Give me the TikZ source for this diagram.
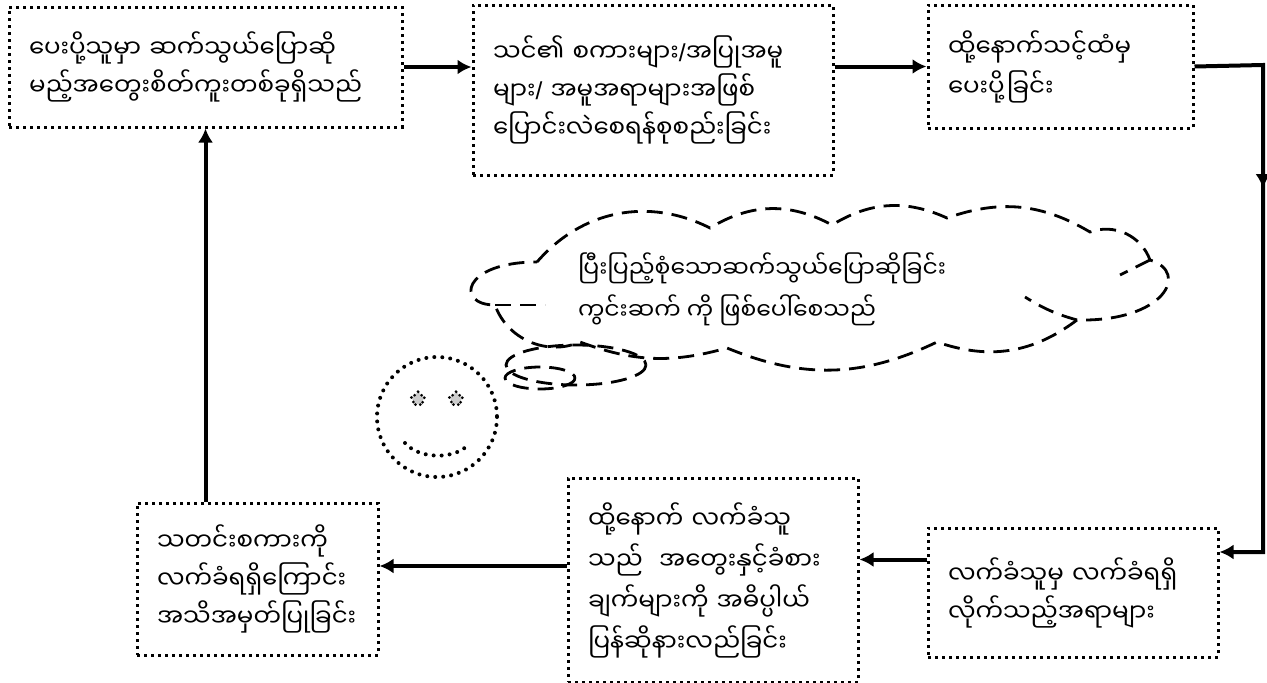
\documentclass[tikz,border=0pt]{standalone}
\usepackage{fontspec}
\newfontfamily\mmfont[Script=Myanmar]{Noto Sans Myanmar UI}
\newfontfamily\latinfont{Liberation Sans}
\newcommand\slashmark{{\latinfont /}}
\usetikzlibrary{arrows.meta}
\usetikzlibrary{decorations.markings}
\usetikzlibrary{shapes.geometric}
\tikzset{->-/.style={decoration={
  markings,
  mark=at position #1 with {\arrow{>}}},postaction={decorate}}}
\tikzset{
  stepbox/.style={draw, line width=3pt, dash pattern=on 3pt off 4pt,
    inner xsep=20pt, inner ysep=0pt, align=left,
    font=\mmfont\fontsize{24.5}{38}\selectfont},
  flow/.style={line width=4pt, ->},
  thinkline/.style={draw, line width=2.8pt, dash pattern=on 16pt off 9pt},
  dotline/.style={line width=4pt, line cap=round, dash pattern=on 0pt off 8pt},
  eye/.style={star, star points=5, minimum size=15pt, inner sep=0pt, fill=gray!40,
    draw, dotline, line width=3pt, dash pattern=on 0pt off 5pt},
}

\begin{document}
\begin{tikzpicture}[x=1pt, y=-1pt, >={Latex[length=14pt,width=15pt]}]
      \useasboundingbox (0,0) rectangle (1267,683);

      \node [stepbox, text width=353pt, minimum height=120pt] (send) at (205.5,67)
        {ပေးပို့သူမှာ ဆက်သွယ်ပြောဆို\\မည့်အတွေးစိတ်ကူးတစ်ခုရှိသည်};
      \node [stepbox, text width=320pt, minimum height=170pt] (encode) at (653,90)
        {သင်၏ စကားများ\slashmark အပြုအမူ\\များ\slashmark\ အမူအရာများအဖြစ်\\ပြောင်းလဲစေရန်စုစည်းခြင်း};
      \node [stepbox, text width=225pt, minimum height=123pt, font=\mmfont\fontsize{24.5}{40}\selectfont] (transmit) at (1060.5,66.5)
        {ထို့နောက်သင့်ထံမှ\\ပေးပို့ခြင်း};
      \node [stepbox, text width=250pt, minimum height=129pt] (receive) at (1073,592.5)
        {လက်ခံသူမှ လက်ခံရရှိ\\လိုက်သည့်အရာများ};
      \node [stepbox, text width=250pt, minimum height=204pt, font=\mmfont\fontsize{24.5}{41}\selectfont] (decode) at (713,580)
        {ထို့နောက် လက်ခံသူ\\သည်~~အတွေးနှင့်ခံစား\\ချက်များကို အဓိပ္ပါယ်\\ပြန်ဆိုနားလည်ခြင်း};
      \node [stepbox, text width=201pt, minimum height=152pt] (ack) at (257.5,579)
        {သတင်းစကားကို\\လက်ခံရရှိကြောင်း\\အသိအမှတ်ပြုခြင်း};

      % thought cloud
      \coordinate (c1) at (537,262);
      \coordinate (c2) at (710,228);
      \coordinate (c3) at (832,225);
      \coordinate (c4) at (947,218);
      \coordinate (c5) at (1090,232);
      \coordinate (c6) at (1150,260);
      \coordinate (c7) at (1077,320);
      \coordinate (c8) at (937,342);
      \coordinate (c9) at (727,348);
      \coordinate (c10) at (580,342);
      \coordinate (c11) at (495,305);
      \draw [thinkline] (c1) to[bend left=38] (c2) to[bend left=30] (c3) to[bend left=28] (c4)
        to[bend left=25] (c5) to[bend left=45] (c6) .. controls (1190,272) and (1165,322) .. (c7)
        to[bend left=28] (c8) to[bend left=24] (c9) to[bend left=18] (c10) to[bend left=47] (c11)
        .. controls (455,305) and (462,262) .. (c1);
      \draw [thinkline] (c7) to[bend left=8] (1025,297);
      \draw [thinkline] (c6) -- (1120,275);
      \draw [thinkline] (c11) -- (545,305);
      \node [align=left, font=\mmfont\fontsize{23.5}{42}\selectfont] (thoughttext) at (762,289)
        {ပြီးပြည့်စုံသောဆက်သွယ်ပြောဆိုခြင်း\\ကွင်းဆက် ကို ဖြစ်ပေါ်စေသည်};
      \draw [thinkline] (576,365) ellipse [x radius=70, y radius=20];
      \draw [thinkline] (540,378) ellipse [x radius=35, y radius=11];

      % smiley
      \draw [dotline] (437,417) circle [radius=60];
      \node [eye] (eyeL) at (418,399) {};
      \node [eye] (eyeR) at (456,399) {};
      \draw [dotline] (405,443) .. controls (420,460) and (455,459) .. (468,445);

      % connectors
      \coordinate (rgt) at (1263,65);
      \coordinate (in4) at ([yshift=40.5pt]receive.east);
      \coordinate (out4) at ([yshift=33pt]receive.west);
      \coordinate (out5) at ([yshift=14pt]decode.west);
      \draw [flow] (send.east) -- (send.east -| encode.west);
      \draw [flow] (transmit.west -| encode.east) -- (transmit.west);
      \draw [flow, ->-=0.32] (transmit.east) -- (rgt) |- (in4);
      \draw [flow] (out4) -- (out4 -| decode.east);
      \draw [flow] (out5) -- (out5 -| ack.east);
      \draw [flow] (send.south |- ack.north) -- (send.south);
    \end{tikzpicture}
\end{document}
